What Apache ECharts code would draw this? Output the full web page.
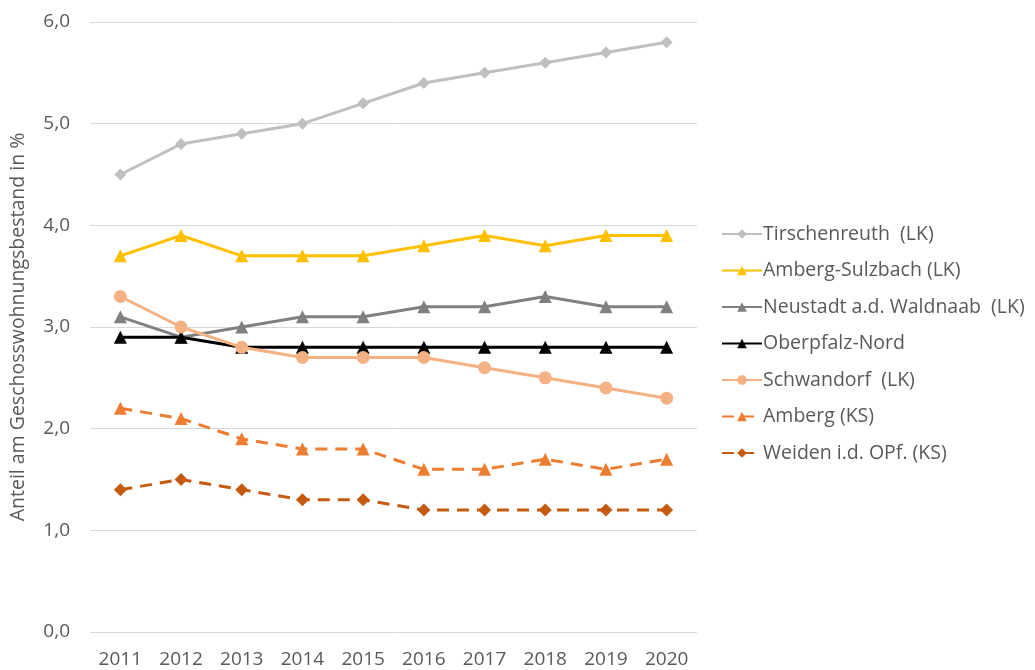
<!DOCTYPE html>
<html>
<head>
<meta charset="utf-8">
<script src="https://cdn.jsdelivr.net/npm/echarts@6/dist/echarts.min.js"></script>
<style>
  html, body { margin: 0; padding: 0; background: #fff; }
  #chart { width: 1035px; height: 670px; }
</style>
</head>
<body>
<div id="chart"></div>
<script>
// Jahre (x-Achse)
var years = ['2011', '2012', '2013', '2014', '2015', '2016', '2017', '2018', '2019', '2020'];

// Anteil am Geschosswohnungsbestand in %
var tirschenreuth = [4.5, 4.8, 4.9, 5.0, 5.2, 5.4, 5.5, 5.6, 5.7, 5.8];
var ambergSulzbach = [3.7, 3.9, 3.7, 3.7, 3.7, 3.8, 3.9, 3.8, 3.9, 3.9];
var neustadt = [3.1, 2.9, 3.0, 3.1, 3.1, 3.2, 3.2, 3.3, 3.2, 3.2];
var oberpfalzNord = [2.9, 2.9, 2.8, 2.8, 2.8, 2.8, 2.8, 2.8, 2.8, 2.8];
var schwandorf = [3.3, 3.0, 2.8, 2.7, 2.7, 2.7, 2.6, 2.5, 2.4, 2.3];
var ambergKS = [2.2, 2.1, 1.9, 1.8, 1.8, 1.6, 1.6, 1.7, 1.6, 1.7];
var weiden = [1.4, 1.5, 1.4, 1.3, 1.3, 1.2, 1.2, 1.2, 1.2, 1.2];

var fontFam = 'Open Sans';
var textCol = '#595959';

function mkSeries(name, data, color, symbol, size, dashed) {
  return {
    name: name,
    type: 'line',
    data: data,
    symbol: symbol,
    symbolSize: size,
    lineStyle: { color: color, width: 3, type: dashed ? [12, 8] : 'solid' },
    itemStyle: { color: color },
    emphasis: { disabled: true }
  };
}

var chart = echarts.init(document.getElementById('chart'));
var option = {
  animation: false,
  textStyle: { fontFamily: fontFam },
  grid: { left: 90, right: 338, top: 22, bottom: 38, outerBoundsMode: 'none', containLabel: false },
  legend: {
    orient: 'vertical',
    left: 716,
    top: 219,
    itemWidth: 40,
    itemHeight: 12,
    itemGap: 16.5,
    textStyle: { fontSize: 19.5, lineHeight: 20, color: textCol, fontFamily: fontFam, padding: [0, 0, 0, -4] },
    data: ['Tirschenreuth  (LK)', 'Amberg-Sulzbach (LK)', 'Neustadt a.d. Waldnaab  (LK)',
      'Oberpfalz-Nord', 'Schwandorf  (LK)', 'Amberg (KS)', 'Weiden i.d. OPf. (KS)']
  },
  xAxis: {
    type: 'category',
    data: years,
    boundaryGap: true,
    axisLine: { show: false },
    axisTick: { show: false },
    axisLabel: { color: textCol, fontSize: 19, margin: 18 }
  },
  yAxis: {
    type: 'value',
    min: 0,
    max: 6,
    interval: 1,
    name: 'Anteil am Geschosswohnungsbestand in %',
    nameLocation: 'middle',
    nameGap: 62,
    nameTextStyle: { color: textCol, fontSize: 19.5 },
    axisLabel: {
      color: textCol, fontSize: 19, margin: 20,
      formatter: function (v) { return v.toFixed(1).replace('.', ','); }
    },
    splitLine: { lineStyle: { color: '#d9d9d9', width: 1 } }
  },
  series: [
    mkSeries('Tirschenreuth  (LK)', tirschenreuth, '#bfbfbf', 'diamond', 12, false),
    mkSeries('Amberg-Sulzbach (LK)', ambergSulzbach, '#ffc000', 'triangle', 13, false),
    mkSeries('Neustadt a.d. Waldnaab  (LK)', neustadt, '#808080', 'triangle', 13, false),
    mkSeries('Oberpfalz-Nord', oberpfalzNord, '#000000', 'triangle', 13, false),
    mkSeries('Schwandorf  (LK)', schwandorf, '#f4b183', 'circle', 13, false),
    mkSeries('Amberg (KS)', ambergKS, '#ed7d31', 'triangle', 13, true),
    mkSeries('Weiden i.d. OPf. (KS)', weiden, '#c55a11', 'diamond', 13, true)
  ]
};
chart.setOption(option);
</script>
</body>
</html>
